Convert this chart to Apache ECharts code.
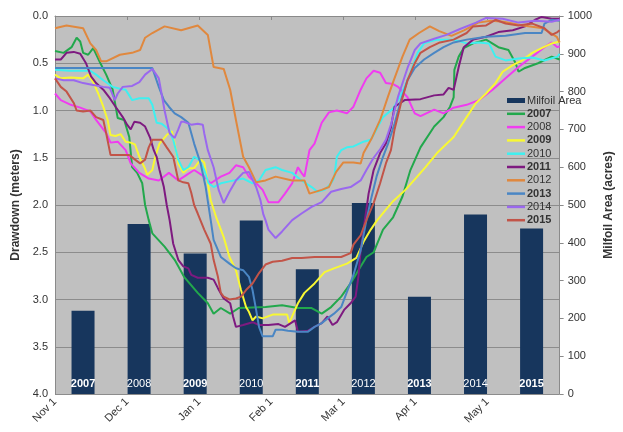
<!DOCTYPE html>
<html>
<head>
<meta charset="utf-8">
<script src="https://cdn.jsdelivr.net/npm/echarts@6/dist/echarts.min.js"></script>
<style>
  html, body { margin: 0; padding: 0; background: #ffffff; }
  #chart { width: 623px; height: 432px; }
</style>
</head>
<body>
<div id="chart"></div>
<script>
// Month tick labels (x = months after Nov 1)
const monthLabels = ['Nov 1', 'Dec 1', 'Jan 1', 'Feb 1', 'Mar 1', 'Apr 1', 'May 1', ''];

// Milfoil area per year (acres)
const years = ['2007', '2008', '2009', '2010', '2011', '2012', '2013', '2014', '2015'];
const milfoilArea = [220, 450, 372, 459, 330, 505, 257, 475, 438];

// Drawdown traces: [months after Nov 1, drawdown in meters]
const d2007 = [[0,0.37],[0.12,0.39],[0.23,0.33],[0.3,0.23],[0.35,0.27],[0.39,0.39],[0.46,0.41],[0.53,0.34],[0.63,0.5],[0.71,0.62],[0.8,0.78],[0.87,1.08],[0.96,1.1],[1.03,1.28],[1.07,1.6],[1.14,1.66],[1.21,1.77],[1.25,2.0],[1.3,2.16],[1.35,2.3],[1.52,2.44],[1.66,2.58],[1.79,2.76],[1.98,2.93],[2.12,3.04],[2.2,3.15],[2.3,3.09],[2.43,3.15],[2.55,3.09],[2.92,3.08],[3.15,3.06],[3.37,3.09],[3.56,3.09],[3.7,3.15],[3.83,3.08],[3.97,2.97],[4.1,2.83],[4.24,2.65],[4.32,2.55],[4.42,2.5],[4.55,2.26],[4.69,2.13],[4.82,1.91],[4.93,1.63],[5.07,1.39],[5.26,1.17],[5.39,1.07],[5.48,0.96],[5.53,0.86],[5.54,0.57],[5.6,0.43],[5.67,0.34],[5.8,0.29],[5.98,0.25],[6.15,0.33],[6.29,0.36],[6.39,0.5],[6.43,0.59],[6.52,0.55],[6.7,0.5],[6.89,0.43],[7.0,0.46]];
const d2008 = [[0,0.82],[0.08,0.89],[0.22,0.94],[0.35,0.97],[0.49,1.01],[0.57,1.1],[0.71,1.24],[0.77,1.34],[0.87,1.33],[0.98,1.42],[1.05,1.56],[1.17,1.66],[1.3,1.72],[1.44,1.74],[1.58,1.66],[1.71,1.74],[1.79,1.7],[1.93,1.63],[2.07,1.7],[2.16,1.77],[2.3,1.7],[2.42,1.66],[2.51,1.58],[2.61,1.6],[2.69,1.7],[2.79,1.77],[2.88,1.84],[2.96,1.97],[3.1,1.97],[3.19,1.88],[3.29,1.77],[3.37,1.6],[3.42,1.66],[3.46,1.7],[3.53,1.42],[3.6,1.35],[3.7,1.13],[3.8,1.02],[3.91,1.0],[4.05,1.03],[4.14,0.96],[4.24,0.78],[4.32,0.66],[4.42,0.58],[4.51,0.6],[4.59,0.71],[4.69,0.72],[4.76,0.75],[4.89,0.86],[4.99,1.03],[5.07,1.06],[5.26,0.99],[5.39,1.03],[5.53,0.97],[5.71,0.94],[5.88,0.89],[6.07,0.78],[6.25,0.66],[6.43,0.54],[6.62,0.43],[6.79,0.33],[6.89,0.28],[6.97,0.33],[7.0,0.32]];
const d2009 = [[0,0.62],[0.08,0.66],[0.22,0.65],[0.39,0.66],[0.46,0.62],[0.53,0.7],[0.6,0.82],[0.67,0.96],[0.73,1.1],[0.77,1.26],[0.84,1.27],[0.91,1.25],[0.98,1.33],[1.05,1.34],[1.11,1.36],[1.17,1.49],[1.24,1.6],[1.28,1.68],[1.35,1.63],[1.39,1.49],[1.45,1.35],[1.55,1.26],[1.62,1.22],[1.66,1.35],[1.71,1.56],[1.78,1.66],[1.85,1.61],[1.93,1.61],[2.02,1.52],[2.07,1.55],[2.12,1.77],[2.16,1.95],[2.24,2.14],[2.34,2.34],[2.42,2.55],[2.51,2.69],[2.58,2.9],[2.65,3.08],[2.69,3.13],[2.74,3.22],[2.79,3.18],[2.88,3.2],[3.02,3.16],[3.15,3.16],[3.22,3.16],[3.25,3.25],[3.3,3.16],[3.37,3.04],[3.46,2.93],[3.6,2.83],[3.74,2.71],[3.87,2.67],[4.05,2.62],[4.18,2.56],[4.28,2.39],[4.38,2.26],[4.46,2.17],[4.59,2.05],[4.69,1.96],[4.86,1.84],[5.0,1.72],[5.14,1.6],[5.3,1.45],[5.53,1.28],[5.71,1.07],[5.84,0.92],[5.98,0.82],[6.11,0.71],[6.21,0.59],[6.35,0.52],[6.48,0.47],[6.62,0.39],[6.75,0.34],[6.89,0.29],[7.0,0.27]];
const d2010 = [[0,0.57],[0.2,0.58],[0.49,0.58],[0.57,0.62],[0.67,0.68],[0.8,0.75],[0.9,0.77],[0.98,0.78],[1.07,0.89],[1.17,0.87],[1.3,0.87],[1.35,0.94],[1.41,1.13],[1.48,1.14],[1.58,1.2],[1.64,1.31],[1.71,1.52],[1.78,1.63],[1.85,1.6],[1.93,1.49],[2.0,1.52],[2.07,1.63],[2.13,1.77],[2.2,1.81],[2.3,1.77],[2.42,1.75],[2.61,1.72],[2.74,1.77],[2.83,1.74],[2.92,1.63],[3.06,1.6],[3.15,1.63],[3.29,1.66],[3.42,1.74],[3.56,1.81],[3.64,1.86],[3.74,1.84],[3.83,1.77],[3.87,1.72],[3.91,1.49],[3.97,1.42],[4.05,1.39],[4.14,1.38],[4.28,1.33],[4.38,1.31],[4.46,1.2],[4.55,1.07],[4.69,0.98],[4.76,0.89],[4.85,0.75],[4.93,0.6],[5.03,0.39],[5.12,0.29],[5.3,0.25],[5.53,0.25],[5.71,0.29],[5.88,0.28],[6.02,0.29],[6.11,0.43],[6.25,0.47],[6.43,0.45],[6.62,0.44],[6.79,0.47],[6.97,0.43],[7.0,0.4]];
const d2011 = [[0,0.46],[0.08,0.46],[0.16,0.39],[0.26,0.38],[0.35,0.4],[0.43,0.5],[0.5,0.64],[0.57,0.71],[0.67,0.78],[0.76,0.87],[0.84,0.96],[0.94,1.07],[1.0,1.15],[1.05,1.2],[1.1,1.12],[1.18,1.13],[1.25,1.17],[1.32,1.29],[1.37,1.42],[1.41,1.49],[1.45,1.63],[1.51,1.81],[1.55,2.0],[1.59,2.16],[1.64,2.41],[1.71,2.58],[1.78,2.65],[1.85,2.67],[1.89,2.74],[1.98,2.77],[2.12,2.77],[2.2,2.79],[2.26,2.88],[2.34,2.99],[2.43,3.04],[2.47,3.18],[2.51,3.29],[2.61,3.27],[2.74,3.24],[2.83,3.27],[2.96,3.27],[3.1,3.26],[3.19,3.29],[3.33,3.22],[3.37,3.34],[3.51,3.33],[3.6,3.29],[3.7,3.25],[3.78,3.18],[3.85,3.27],[3.91,3.24],[4.01,3.11],[4.1,3.04],[4.17,2.97],[4.21,2.75],[4.24,2.48],[4.28,2.26],[4.35,1.88],[4.42,1.63],[4.51,1.45],[4.59,1.35],[4.66,1.18],[4.71,0.96],[4.85,0.89],[5.07,0.88],[5.26,0.84],[5.39,0.83],[5.46,0.76],[5.53,0.78],[5.6,0.54],[5.67,0.33],[5.8,0.25],[5.98,0.22],[6.15,0.17],[6.35,0.15],[6.52,0.11],[6.66,0.04],[6.75,0.01],[6.89,0.03],[7.0,0.03]];
const d2012 = [[0,0.13],[0.16,0.1],[0.39,0.13],[0.49,0.29],[0.57,0.36],[0.64,0.48],[0.71,0.48],[0.9,0.41],[1.07,0.39],[1.18,0.36],[1.25,0.23],[1.35,0.18],[1.52,0.11],[1.75,0.15],[1.98,0.1],[2.12,0.2],[2.2,0.54],[2.34,0.56],[2.43,0.78],[2.51,1.1],[2.61,1.49],[2.69,1.6],[2.79,1.76],[2.92,1.74],[3.06,1.7],[3.29,1.74],[3.46,1.74],[3.53,1.88],[3.7,1.84],[3.8,1.81],[3.9,1.65],[4.0,1.55],[4.14,1.55],[4.24,1.56],[4.28,1.45],[4.39,1.3],[4.51,1.1],[4.62,0.85],[4.69,0.7],[4.82,0.43],[4.92,0.25],[5.05,0.18],[5.2,0.11],[5.33,0.16],[5.5,0.21],[5.68,0.15],[5.87,0.07],[6.05,0.05],[6.22,0.06],[6.49,0.1],[6.77,0.13],[6.96,0.22],[7.0,0.28]];
const d2013 = [[0,0.55],[1.35,0.55],[1.44,0.75],[1.51,0.89],[1.58,0.96],[1.66,1.03],[1.75,1.07],[1.85,1.13],[1.93,1.35],[2.02,1.56],[2.09,1.81],[2.16,2.16],[2.2,2.37],[2.3,2.55],[2.42,2.62],[2.51,2.67],[2.61,2.69],[2.69,2.76],[2.74,2.9],[2.79,3.11],[2.83,3.29],[2.88,3.39],[3.02,3.39],[3.06,3.32],[3.15,3.32],[3.23,3.33],[3.37,3.34],[3.51,3.34],[3.6,3.29],[3.7,3.25],[3.78,3.2],[3.87,3.15],[3.97,3.08],[4.05,2.92],[4.14,2.74],[4.24,2.48],[4.32,2.16],[4.38,1.95],[4.46,1.7],[4.55,1.49],[4.62,1.35],[4.71,1.14],[4.8,0.89],[4.89,0.68],[4.99,0.55],[5.12,0.46],[5.26,0.39],[5.39,0.33],[5.53,0.28],[5.71,0.25],[5.98,0.22],[6.25,0.21],[6.52,0.18],[6.75,0.18],[6.79,0.08],[6.89,0.04],[7.0,0.05]];
const d2014 = [[0,0.66],[0.12,0.68],[0.26,0.68],[0.39,0.71],[0.53,0.73],[0.67,0.75],[0.76,0.76],[0.83,0.89],[0.87,0.82],[0.94,0.75],[1.07,0.74],[1.17,0.7],[1.25,0.62],[1.35,0.56],[1.44,0.66],[1.52,1.0],[1.59,1.24],[1.66,1.29],[1.71,1.2],[1.75,1.12],[1.79,1.12],[1.89,1.15],[1.98,1.14],[2.05,1.15],[2.07,1.24],[2.12,1.42],[2.2,1.6],[2.27,1.84],[2.34,1.98],[2.42,1.86],[2.51,1.74],[2.61,1.66],[2.69,1.65],[2.79,1.81],[2.85,1.95],[2.89,2.1],[2.92,2.16],[2.96,2.26],[3.06,2.35],[3.15,2.28],[3.29,2.16],[3.42,2.09],[3.56,2.02],[3.7,1.97],[3.83,1.86],[3.97,1.83],[4.1,1.81],[4.24,1.74],[4.32,1.63],[4.42,1.5],[4.51,1.41],[4.59,1.31],[4.66,1.15],[4.76,0.85],[4.89,0.55],[4.99,0.36],[5.07,0.29],[5.26,0.24],[5.43,0.2],[5.61,0.14],[5.84,0.07],[5.98,0.02],[6.21,0.03],[6.43,0.07],[6.66,0.05],[6.89,0.06],[7.0,0.04]];
const d2015 = [[0,0.66],[0.08,0.75],[0.16,0.8],[0.26,0.92],[0.3,1.0],[0.39,1.01],[0.49,1.0],[0.57,1.07],[0.67,1.1],[0.71,1.24],[0.77,1.47],[0.9,1.47],[1.03,1.47],[1.11,1.52],[1.18,1.56],[1.25,1.52],[1.3,1.39],[1.35,1.31],[1.48,1.31],[1.55,1.39],[1.64,1.49],[1.71,1.74],[1.78,1.76],[1.85,1.77],[1.89,1.87],[1.93,2.0],[1.98,2.09],[2.07,2.26],[2.16,2.41],[2.2,2.58],[2.26,2.76],[2.3,2.93],[2.34,2.97],[2.42,3.0],[2.51,2.99],[2.58,2.97],[2.65,2.9],[2.74,2.83],[2.83,2.72],[2.92,2.63],[3.02,2.6],[3.15,2.59],[3.29,2.56],[3.42,2.56],[3.6,2.55],[3.78,2.55],[3.97,2.55],[4.1,2.51],[4.14,2.42],[4.24,2.32],[4.32,2.16],[4.42,1.98],[4.51,1.77],[4.59,1.56],[4.66,1.42],[4.71,1.2],[4.8,0.92],[4.89,0.68],[4.99,0.5],[5.07,0.39],[5.2,0.33],[5.34,0.28],[5.53,0.25],[5.71,0.18],[5.8,0.11],[5.98,0.1],[6.11,0.04],[6.25,0.08],[6.43,0.1],[6.62,0.08],[6.79,0.13],[6.89,0.2],[6.97,0.17],[7.0,0.15]];

const drawdown = { '2007': d2007, '2008': d2008, '2009': d2009, '2010': d2010, '2011': d2011,
                   '2012': d2012, '2013': d2013, '2014': d2014, '2015': d2015 };

// Styling
const lineColors = {
  '2007': '#22a84c', '2008': '#f03cf0', '2009': '#f8f833', '2010': '#3ef0f0', '2011': '#7e1a80',
  '2012': '#e0883e', '2013': '#4a86c4', '2014': '#9a68ee', '2015': '#c25448'
};
const barColor = '#17365d';
const boldYears = ['2007', '2009', '2011', '2013', '2015'];
const fontFamily = '"Liberation Sans", Arial, sans-serif';
const textColor = '#333333';

const yearText = (name) => boldYears.indexOf(name) >= 0 ? '{b|' + name + '}' : '{n|' + name + '}';

const lineSeries = years.map((y) => ({
  name: y,
  type: 'line',
  xAxisIndex: 0,
  yAxisIndex: 0,
  data: drawdown[y],
  symbol: 'none',
  lineStyle: { width: 2, color: lineColors[y] },
  itemStyle: { color: lineColors[y] },
  z: 3
}));

const chart = echarts.init(document.getElementById('chart'), null, { renderer: 'canvas' });

chart.setOption({
  animation: false,
  backgroundColor: '#ffffff',
  textStyle: { fontFamily: fontFamily },
  grid: {
    left: 55, right: 51, top: 16, bottom: 38,
    show: true, backgroundColor: '#c0c0c0', borderWidth: 0
  },
  legend: {
    orient: 'vertical',
    left: 502,
    top: 90,
    itemWidth: 18,
    itemHeight: 10,
    itemGap: 2.3,
    selectedMode: false,
    textStyle: {
      fontSize: 11, color: textColor, fontFamily: fontFamily, padding: [0, 0, 0, -3],
      rich: {
        b: { fontSize: 11, fontWeight: 'bold', color: textColor, fontFamily: fontFamily },
        n: { fontSize: 11, color: textColor, fontFamily: fontFamily }
      }
    },
    formatter: (name) => name === 'Milfoil Area' ? '{n|Milfoil Area}' : yearText(name),
    data: [{ name: 'Milfoil Area', icon: 'path://M0,0h18v5h-18z' }].concat(
      years.map((y) => ({ name: y, icon: 'path://M0,0h18v2.5h-18z' })))
  },
  xAxis: [
    {
      type: 'value',
      min: 0, max: 7, interval: 1,
      position: 'bottom',
      axisLine: { show: true, lineStyle: { color: '#8a8a8a', width: 1 } },
      axisTick: { show: true, length: 4, lineStyle: { color: '#8a8a8a' } },
      splitLine: { show: false },
      axisLabel: {
        rotate: 45, fontSize: 11, color: textColor, margin: 6,
        formatter: (v) => monthLabels[Math.round(v)] || ''
      }
    },
    {
      type: 'category',
      data: years,
      show: false,
      position: 'bottom'
    }
  ],
  yAxis: [
    {
      type: 'value',
      inverse: true,
      min: 0, max: 4, interval: 0.5,
      name: 'Drawdown (meters)',
      nameLocation: 'middle',
      nameGap: 32,
      nameRotate: 90,
      nameTextStyle: { fontSize: 12, fontWeight: 'bold', color: textColor },
      axisLine: { show: true, lineStyle: { color: '#8a8a8a', width: 1 } },
      axisTick: { show: false },
      splitLine: { show: true, lineStyle: { color: '#8c8c8c', width: 1.2 } },
      axisLabel: { fontSize: 11, color: textColor, margin: 7, formatter: (v) => v.toFixed(1) }
    },
    {
      type: 'value',
      position: 'right',
      min: 0, max: 1000, interval: 100,
      name: 'Milfoil Area (acres)',
      nameLocation: 'middle',
      nameGap: 40,
      nameRotate: 90,
      nameTextStyle: { fontSize: 12, fontWeight: 'bold', color: textColor },
      axisLine: { show: true, lineStyle: { color: '#8a8a8a', width: 1 } },
      axisTick: { show: true, length: 4, lineStyle: { color: '#8a8a8a' } },
      splitLine: { show: false },
      axisLabel: { fontSize: 11, color: textColor, margin: 8, formatter: (v) => String(v) }
    }
  ],
  series: [
    {
      name: 'Milfoil Area',
      type: 'bar',
      xAxisIndex: 1,
      yAxisIndex: 1,
      data: milfoilArea,
      barWidth: 23,
      itemStyle: { color: barColor },
      z: 2,
      label: {
        show: true,
        position: 'insideBottom',
        distance: 5,
        formatter: (p) => yearText(p.name),
        rich: {
          b: { fontSize: 11, fontWeight: 'bold', color: '#ffffff', fontFamily: fontFamily },
          n: { fontSize: 11, color: '#ffffff', fontFamily: fontFamily }
        }
      }
    }
  ].concat(lineSeries)
});
</script>
</body>
</html>
